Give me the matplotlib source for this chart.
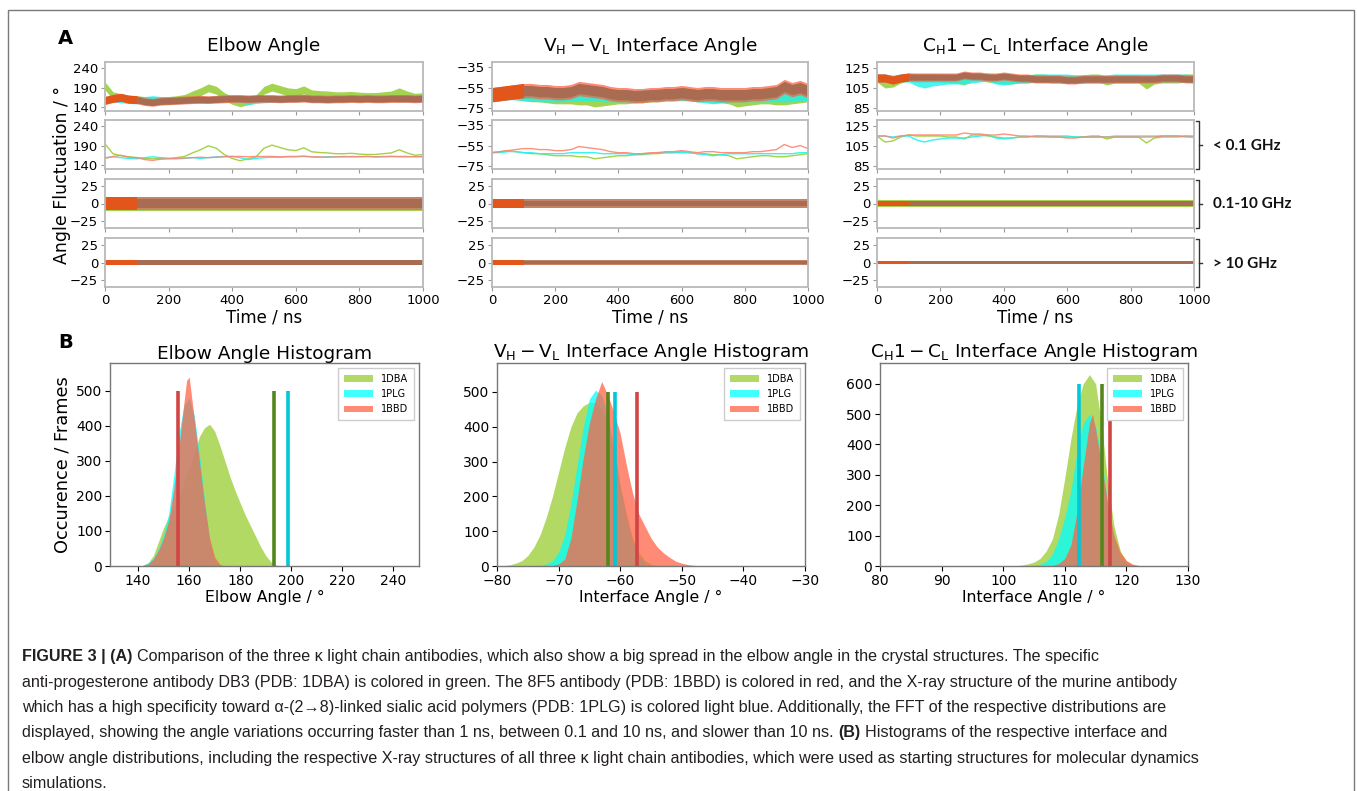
import numpy as np
import matplotlib
matplotlib.use('Agg')
from matplotlib import pyplot as plt
from matplotlib import font_manager
from matplotlib.patches import Rectangle
from matplotlib.lines import Line2D

W, H = 1357, 791

# --- A: slow (< 0.1 GHz) component, one value every 25 ns -------------------
t_slow = list(range(0, 1001, 25))

elbow_1dba = [195, 170, 165, 162, 160, 158, 157, 158, 158, 160, 163, 172, 180, 190, 184, 168, 158,
              152, 157, 162, 184, 192, 186, 180, 178, 185, 175, 173, 172, 170, 170, 171, 169, 168,
              168, 170, 172, 180, 172, 166, 168]
elbow_1plg = [160, 162, 160, 158, 157, 160, 162, 160, 158, 157, 158, 160, 158, 160, 162, 163, 163,
              160, 155, 158, 160, 161, 161, 162, 162, 163, 162, 161, 162, 162, 163, 162, 163, 163,
              162, 163, 163, 162, 162, 163, 162]
elbow_1bbd = [158, 163, 166, 161, 160, 155, 153, 156, 157, 158, 159, 160, 161, 160, 161, 162, 163,
              163, 162, 163, 163, 163, 162, 163, 163, 164, 162, 162, 161, 162, 162, 163, 162, 163,
              162, 162, 163, 163, 163, 162, 163]

vhvl_1dba = [-62, -61, -60, -61, -62, -63, -63, -64, -65, -65, -65, -66, -66, -68, -67, -66, -65,
             -65, -64, -64, -63, -63, -62, -62, -61, -62, -63, -63, -64, -64, -65, -68, -67, -66,
             -65, -65, -66, -66, -65, -64, -63]
vhvl_1plg = [-62, -62, -61, -61, -62, -62, -63, -63, -63, -63, -62, -62, -62, -62, -63, -63, -63,
             -63, -64, -63, -63, -62, -62, -62, -62, -62, -63, -64, -65, -64, -63, -63, -63, -63,
             -63, -63, -63, -63, -63, -62, -62]
vhvl_1bbd = [-62, -61, -60, -59, -58, -58, -59, -59, -60, -60, -59, -56, -57, -58, -59, -61, -62,
             -62, -63, -63, -62, -62, -61, -61, -60, -61, -62, -61, -61, -62, -62, -62, -62, -61,
             -61, -60, -59, -54, -57, -55, -58]

ch1_1dba = [115, 109, 110, 114, 116, 115, 115, 115, 115, 114, 114, 112, 116, 116, 115, 114, 113,
            113, 114, 114, 115, 115, 114, 114, 114, 114, 114, 115, 115, 112, 114, 114, 114, 114,
            108, 113, 114, 114, 114, 115, 115]
ch1_1plg = [115, 115, 114, 115, 115, 111, 109, 111, 112, 113, 113, 113, 114, 115, 116, 113, 112,
            113, 114, 114, 115, 115, 115, 115, 115, 114, 114, 114, 114, 114, 115, 115, 115, 115,
            115, 115, 115, 115, 115, 115, 114]
ch1_1bbd = [115, 115, 113, 115, 116, 116, 116, 116, 116, 116, 116, 118, 117, 117, 116, 116, 117,
            116, 115, 115, 114, 114, 114, 114, 113, 113, 114, 114, 114, 114, 114, 114, 114, 114,
            114, 114, 115, 115, 115, 114, 114]

# half widths of the bands (1DBA, 1PLG, 1BBD fringe, 1BBD core)
raw_half = {'elbow': [10, 8, 10, 8], 'vhvl': [6, 6, 7, 5], 'ch1': [4, 4, 4, 3]}
mid_half = {'elbow': [10, 9, 9, 6], 'vhvl': [6, 6, 7, 4], 'ch1': [5, 4, 4, 3]}
fast_half = {'elbow': [4, 4, 4, 3], 'vhvl': [3, 3, 3, 2], 'ch1': [2, 2, 2, 1.5]}

# --- B: histograms ------------------------------------------------------------
eh_x_1dba = [142, 144, 146, 148, 150, 152, 154, 156, 158, 160, 162, 164, 166, 168, 170, 172, 174,
             176, 178, 180, 182, 184, 186, 188, 190, 192, 194, 196]
eh_y_1dba = [2, 10, 30, 70, 110, 140, 165, 200, 240, 280, 320, 370, 395, 405, 385, 345, 300, 255,
             215, 180, 145, 115, 85, 55, 30, 12, 3, 0]
eh_x_1plg = [142, 144, 146, 148, 150, 152, 154, 156, 158, 160, 162, 164, 166, 168, 170, 172]
eh_y_1plg = [2, 8, 22, 50, 90, 150, 260, 380, 460, 480, 430, 320, 190, 70, 15, 2]
eh_x_1bbd = [142, 144, 146, 148, 150, 152, 154, 156, 158, 159, 160, 161, 162, 164, 166, 168, 170,
             172, 174]
eh_y_1bbd = [2, 6, 20, 45, 80, 130, 220, 340, 470, 530, 540, 480, 420, 300, 180, 80, 25, 5, 0]

vh_x_1dba = list(range(-79, -53))
vh_y_1dba = [1, 3, 8, 15, 30, 55, 90, 140, 200, 270, 340, 400, 440, 460, 470, 470, 450, 400, 320,
             230, 150, 80, 40, 15, 5, 1]
vh_x_1plg = list(range(-73, -53))
vh_y_1plg = [2, 6, 15, 40, 90, 180, 290, 400, 480, 505, 490, 430, 340, 230, 140, 70, 30, 10, 3, 0]
vh_x_1bbd = list(range(-71, -45))
vh_y_1bbd = [2, 6, 20, 80, 190, 310, 410, 480, 530, 490, 440, 380, 290, 210, 150, 115, 80, 55,
             38, 25, 14, 8, 4, 2, 1, 0]

ch_x_1dba = list(range(102, 123))
ch_y_1dba = [1, 3, 7, 13, 25, 50, 90, 170, 290, 420, 530, 600, 630, 600, 460, 270, 130, 50, 15, 4, 1]
ch_x_1plg = list(range(104, 122))
ch_y_1plg = [1, 3, 6, 15, 40, 90, 160, 250, 380, 470, 500, 460, 350, 200, 90, 30, 8, 2]
ch_x_1bbd = [108, 109, 110, 111, 112, 113, 114, 114.5, 115, 116, 117, 118, 119, 120, 121, 122, 123]
ch_y_1bbd = [2, 8, 25, 70, 180, 330, 470, 500, 450, 330, 200, 100, 45, 18, 6, 2, 0]

# X-ray structure angles (1DBA, 1PLG, 1BBD) and marker heights
xray_elbow = [193.2, 198.8, 155.8]
xray_vhvl = [-62.0, -60.8, -57.2]
xray_ch1 = [116.1, 112.3, 117.3]
xray_height = [500, 500, 600]

labels = ['1DBA', '1PLG', '1BBD']
bands = ['< 0.1 GHz', '0.1-10 GHz', '> 10 GHz']

raw_colors = ['#8ec823', '#1ef0f0', '#ff5a38']
slow_colors = ['#9acd32', '#22f2f2', '#ff8472']
core_late = '#a96b52'
core_early = '#e2561c'
hist_colors = ['yellowgreen', 'cyan', 'tomato']
xray_colors = ['#55861c', '#00c8d6', '#d24545']


def box(l, t, r, b):
    return [l / W, 1 - b / H, (r - l) / W, (b - t) / H]


fig = plt.figure(figsize=(W / 100, H / 100), dpi=100)
plt.rcParams['font.family'] = ['DejaVu Sans']
plt.rcParams['mathtext.fontset'] = 'dejavusans'

# frame around the figure (bottom edge is cut off)
fig.add_artist(Rectangle((8 / W, -0.02), 1346 / W, 1 - 10 / H + 0.02, transform=fig.transFigure,
                         fill=False, ec='#7a7a7a', lw=1.0))

cols = [(105, 423), (492, 808), (877, 1194)]
rows = [(62, 111), (120, 169), (179, 228), (238, 287)]
slow = {'elbow': [elbow_1dba, elbow_1plg, elbow_1bbd],
        'vhvl': [vhvl_1dba, vhvl_1plg, vhvl_1bbd],
        'ch1': [ch1_1dba, ch1_1plg, ch1_1bbd]}
keys = ['elbow', 'vhvl', 'ch1']
ylims = {'elbow': (131, 256), 'vhvl': (-78, -30), 'ch1': (82, 131)}
yticks = {'elbow': [140, 190, 240], 'vhvl': [-75, -55, -35], 'ch1': [85, 105, 125]}
titles = ['Elbow Angle', r'$\mathrm{V_H - V_L}$ Interface Angle', r'$\mathrm{C_H1 - C_L}$ Interface Angle']

t = np.array(t_slow)
early = t <= 100
late = t >= 100


def style_ts(ax):
    for sp in ax.spines.values():
        sp.set_color('#b9b9b9')
        sp.set_linewidth(1.3)
    ax.tick_params(length=3, width=0.8, color='#9a9a9a', labelsize=9.5, pad=2)
    ax.set_xlim(0, 1000)
    ax.set_xticks([0, 200, 400, 600, 800, 1000])


def draw_bands(ax, x, centers, halfs, when_late, when_early):
    # 1DBA and 1PLG fringes, 1BBD fringe, then the dense 1BBD core
    for s in [0, 1]:
        ax.fill_between(x, centers[s] - halfs[s], centers[s] + halfs[s], color=raw_colors[s],
                        alpha=0.8, lw=0)
    ax.fill_between(x, centers[2] - halfs[2], centers[2] + halfs[2], color=raw_colors[2],
                    alpha=0.7, lw=0)
    ax.fill_between(x, centers[2] - halfs[3], centers[2] + halfs[3], where=when_late,
                    color=core_late, lw=0)
    ax.fill_between(x, centers[2] - halfs[2], centers[2] + halfs[2], where=when_early,
                    color=core_early, lw=0)


for c, key in enumerate(keys):
    l, r = cols[c]
    data = [np.array(s, dtype=float) for s in slow[key]]
    for ri, (tp, bt) in enumerate(rows):
        ax = fig.add_axes(box(l, tp, r, bt))
        style_ts(ax)
        if ri == 0:
            draw_bands(ax, t, data, raw_half[key], late, early)
            ax.set_ylim(*ylims[key])
            ax.set_yticks(yticks[key])
            ax.set_title(titles[c], fontsize=13.3, pad=8)
        elif ri == 1:
            for s in range(3):
                ax.plot(t, data[s], color=slow_colors[s], lw=1.0, alpha=0.9)
            ax.set_ylim(*ylims[key])
            ax.set_yticks(yticks[key])
        else:
            halfs = mid_half[key] if ri == 2 else fast_half[key]
            zero = [np.zeros_like(t, dtype=float)] * 3
            draw_bands(ax, t, zero, halfs, late, early)
            ax.set_ylim(-35, 35)
            ax.set_yticks([-25, 0, 25])
        if ri < 3:
            ax.tick_params(labelbottom=False)
        else:
            ax.set_xlabel('Time / ns', fontsize=12, labelpad=1)

# brackets with frequency bands
for ri in range(1, 4):
    tp, bt = rows[ri]
    xb = 1199
    pts_x = [1196, xb, xb, 1196]
    pts_y = [tp + 1, tp + 1, bt, bt]
    fig.add_artist(Line2D([p / W for p in pts_x], [1 - p / H for p in pts_y], color='#333333', lw=1.0))
    ym = (tp + bt) / 2
    fig.add_artist(Line2D([xb / W, 1202 / W], [1 - ym / H, 1 - ym / H], color='#333333', lw=1.0))
    fig.text(1213 / W, 1 - (ym + 1) / H, bands[ri - 1], fontsize=11, fontweight='bold',
             family=['Lato', 'DejaVu Sans'], va='center', ha='left', color='#111111')

fig.text(62 / W, 1 - 175 / H, 'Angle Fluctuation / °', rotation=90, fontsize=12.5, va='center', ha='center')
fig.text(58 / W, 1 - 38 / H, 'A', fontsize=14, fontweight='bold', va='center', ha='left')
fig.text(58 / W, 1 - 342 / H, 'B', fontsize=14, fontweight='bold', va='center', ha='left')

# --- B -------------------------------------------------------------------------
hcols = [(110, 419), (497, 805), (880, 1188)]
hist = [
    ([eh_x_1dba, eh_x_1plg, eh_x_1bbd], [eh_y_1dba, eh_y_1plg, eh_y_1bbd], xray_elbow,
     (129, 250), (0, 580), [140, 160, 180, 200, 220, 240], [0, 100, 200, 300, 400, 500],
     'Elbow Angle Histogram', 'Elbow Angle / °'),
    ([vh_x_1dba, vh_x_1plg, vh_x_1bbd], [vh_y_1dba, vh_y_1plg, vh_y_1bbd], xray_vhvl,
     (-80, -30), (0, 583), [-80, -70, -60, -50, -40, -30], [0, 100, 200, 300, 400, 500],
     r'$\mathrm{V_H - V_L}$ Interface Angle Histogram', 'Interface Angle / °'),
    ([ch_x_1dba, ch_x_1plg, ch_x_1bbd], [ch_y_1dba, ch_y_1plg, ch_y_1bbd], xray_ch1,
     (80, 130), (0, 668), [80, 90, 100, 110, 120, 130], [0, 100, 200, 300, 400, 500, 600],
     r'$\mathrm{C_H1 - C_L}$ Interface Angle Histogram', 'Interface Angle / °'),
]

for c, (xs, ys, xray, xl, yl, xt, yt, ttl, xlab) in enumerate(hist):
    l, r = hcols[c]
    ax = fig.add_axes(box(l, 363, r, 566))
    for s in range(3):
        ax.fill_between(xs[s], ys[s], color=hist_colors[s], alpha=0.75, lw=0, label=labels[s])
    ax.vlines(xray, 0, xray_height[c], colors=xray_colors, lw=2.6)
    ax.set_xlim(*xl)
    ax.set_ylim(*yl)
    ax.set_xticks(xt)
    ax.set_yticks(yt)
    for sp in ax.spines.values():
        sp.set_color('#777777')
        sp.set_linewidth(1.0)
    ax.tick_params(length=3.5, width=0.8, labelsize=10, pad=2)
    ax.set_title(ttl, fontsize=13.3, pad=3)
    ax.set_xlabel(xlab, fontsize=11.3, labelpad=2)
    if c == 0:
        ax.set_ylabel('Occurence / Frames', fontsize=12.8, labelpad=3)
    ax.legend(loc='upper right', fontsize=7, handlelength=3, borderpad=0.6, labelspacing=0.55,
              framealpha=1, edgecolor='#cccccc', fancybox=False)

# --- caption -------------------------------------------------------------------
names = {f.name for f in font_manager.fontManager.ttflist}
cap_family = next((n for n in ['Liberation Sans Narrow', 'Liberation Sans', 'Roboto'] if n in names),
                  'DejaVu Sans')
fam = [cap_family, 'DejaVu Sans']

caption = [
    [('FIGURE 3 | (A)', True),
     ('Comparison of the three κ light chain antibodies, which also show a big spread in the elbow '
      'angle in the crystal structures. The specific', False)],
    [('anti-progesterone antibody DB3 (PDB: 1DBA) is colored in green. The 8F5 antibody (PDB: 1BBD) '
      'is colored in red, and the X-ray structure of the murine antibody', False)],
    [('which has a high specificity toward α-(2→8)-linked sialic acid polymers (PDB: 1PLG) is colored '
      'light blue. Additionally, the FFT of the respective distributions are', False)],
    [('displayed, showing the angle variations occurring faster than 1 ns, between 0.1 and 10 ns, '
      'and slower than 10 ns.', False), ('(B)', True),
     ('Histograms of the respective interface and', False)],
    [('elbow angle distributions, including the respective X-ray structures of all three κ light chain '
      'antibodies, which were used as starting structures for molecular dynamics', False)],
    [('simulations.', False)],
]
cap_base = [661, 686.5, 712, 737.5, 763, 788]

renderer = fig.canvas.get_renderer()
probe = fig.text(0, 0, caption[4][0][0], fontsize=10, family=fam)
size = 10 * 1178 / probe.get_window_extent(renderer).width
probe.remove()
size = min(size, 12.4)
p1 = fig.text(0, 0, 'a a', fontsize=size, family=fam)
p2 = fig.text(0, 0, 'aa', fontsize=size, family=fam)
space = p1.get_window_extent(renderer).width - p2.get_window_extent(renderer).width
p1.remove()
p2.remove()

for segs, yb in zip(caption, cap_base):
    x = 22
    for i, (txt, bold) in enumerate(segs):
        if i:
            x += space
        tx = fig.text(x / W, 1 - yb / H, txt, fontsize=size, family=fam,
                      fontweight='bold' if bold else 'normal', va='baseline', ha='left',
                      color='#231f20')
        x += tx.get_window_extent(renderer).width

fig.savefig('out.png', dpi=100)
